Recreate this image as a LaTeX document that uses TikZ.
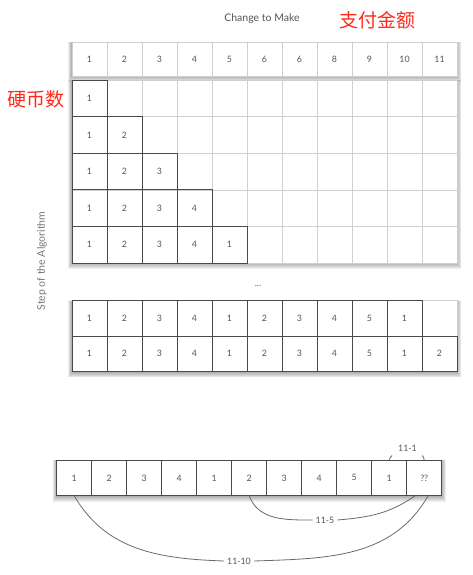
\documentclass[tikz,border=0pt]{standalone}
\usepackage{fontspec}
\setmainfont{Lato}
\newfontfamily\cjk{Noto Sans CJK SC}
\definecolor{txt}{HTML}{555555}
\definecolor{darkline}{HTML}{4a4a4a}
\definecolor{lightline}{HTML}{d0d0d0}
\definecolor{redlab}{HTML}{FF2A1A}
\definecolor{curve}{HTML}{6a6a6a}
\tikzset{
  cellbox/.style={draw=lightline, line width=0.6pt, fill=white, minimum width=35pt,
    inner sep=0pt, outer sep=0pt, font=\fontsize{8.8}{10}\selectfont, text=txt},
  darkcell/.style={draw=darkline, line width=0.9pt},
  smalllab/.style={font=\fontsize{8.8}{10}\selectfont, text=txt, inner sep=1pt},
  conn/.style={draw=curve, line width=0.8pt},
  redtext/.style={font=\cjk\fontsize{19}{20}\selectfont, text=redlab, inner sep=0pt}
}
% #1 x1, #2 y1, #3 x2, #4 y2
\newcommand\softshadow[4]{%
  \foreach \s in {1,...,6}{%
    \fill[black, opacity=0.06] ({#1-\s*0.7},{#2-\s*0.2+1}) rectangle ({#3+\s*0.7},{#4+\s*0.9+0.5});
  }%
}
% #1 name, #2 x left, #3 y top, #4 height, #5 values, #6 number of dark cells
\newcommand\gridrow[6]{%
  \foreach \v [count=\k] in {#5}{%
    \node[cellbox, minimum height=#4pt] (#1-\k) at ({#2+(\k-0.5)*35},{#3+#4/2}) {\v};
  }%
  \foreach \k in {1,...,11}{%
    \ifnum\k>#6\relax\else
      \draw[darkcell] (#1-\k.north west) rectangle (#1-\k.south east);
    \fi
  }%
}
\begin{document}
\begin{tikzpicture}[x=1pt,y=-1pt]
\useasboundingbox (0,0) rectangle (473,575);

% titles
\node[font=\fontsize{10.5}{12}\selectfont, text=txt] (title) at (262,19) {Change to Make};
\node[redtext] (pay) at (377,20) {支付金额};
\node[redtext] (coins) at (36,99) {硬币数};
\node[rotate=90, font=\fontsize{10.5}{12}\selectfont, text=txt!80] (step) at (42,261) {Step of the Algorithm};
\node[smalllab] (dots) at (258,286) {...};

% shadows
\softshadow{72}{42}{457}{76}
\softshadow{72}{80}{457}{263}
\softshadow{72}{300.5}{457}{371.5}
\softshadow{56.7}{460}{441.7}{495.7}

% header
\gridrow{h}{72}{42}{34}{1,2,3,4,5,6,6,8,9,10,11}{0}
% rows 1-5
\gridrow{ra}{72}{80}{36.6}{1,{},{},{},{},{},{},{},{},{},{}}{1}
\gridrow{rb}{72}{116.6}{36.6}{1,2,{},{},{},{},{},{},{},{},{}}{2}
\gridrow{rc}{72}{153.2}{36.6}{1,2,3,{},{},{},{},{},{},{},{}}{3}
\gridrow{rd}{72}{189.8}{36.6}{1,2,3,4,{},{},{},{},{},{},{}}{4}
\gridrow{re}{72}{226.4}{36.6}{1,2,3,4,1,{},{},{},{},{},{}}{5}
% rows 10-11
\gridrow{rj}{72}{300.5}{35.5}{1,2,3,4,1,2,3,4,5,1,{}}{10}
\gridrow{rk}{72}{336}{35.5}{1,2,3,4,1,2,3,4,5,1,2}{11}
% final row
\gridrow{L}{56.7}{460}{35.7}{1,2,3,4,1,2,3,4,5,1,??}{11}

% labels of connectors
\node[smalllab] (l1) at (407.5,448) {11-1};
\node[smalllab, inner sep=3pt] (l5) at (325,520) {11-5};
\node[smalllab, inner sep=3pt] (l10) at (239,561) {11-10};

\coordinate (t1) at ([xshift=3pt,yshift=4.5pt]L-10.north);
\coordinate (t2) at ([xshift=-2pt,yshift=4.5pt]L-11.north);
\draw[conn] (L-10.north) to[out=70,in=-150] (t1);
\draw[conn] (t2) to[out=-30,in=110] (L-11.north);

\draw[conn] (L-6.south) to[out=-70,in=180] (l5.west);
\draw[conn] (l5.east) to[out=5,in=-145] ([xshift=-9pt]L-11.south);

\draw[conn] (L-1.south) to[out=-60,in=178] (l10.west);
\draw[conn] (l10.east) to[out=2,in=-120] ([xshift=4pt]L-11.south);
\end{tikzpicture}
\end{document}
